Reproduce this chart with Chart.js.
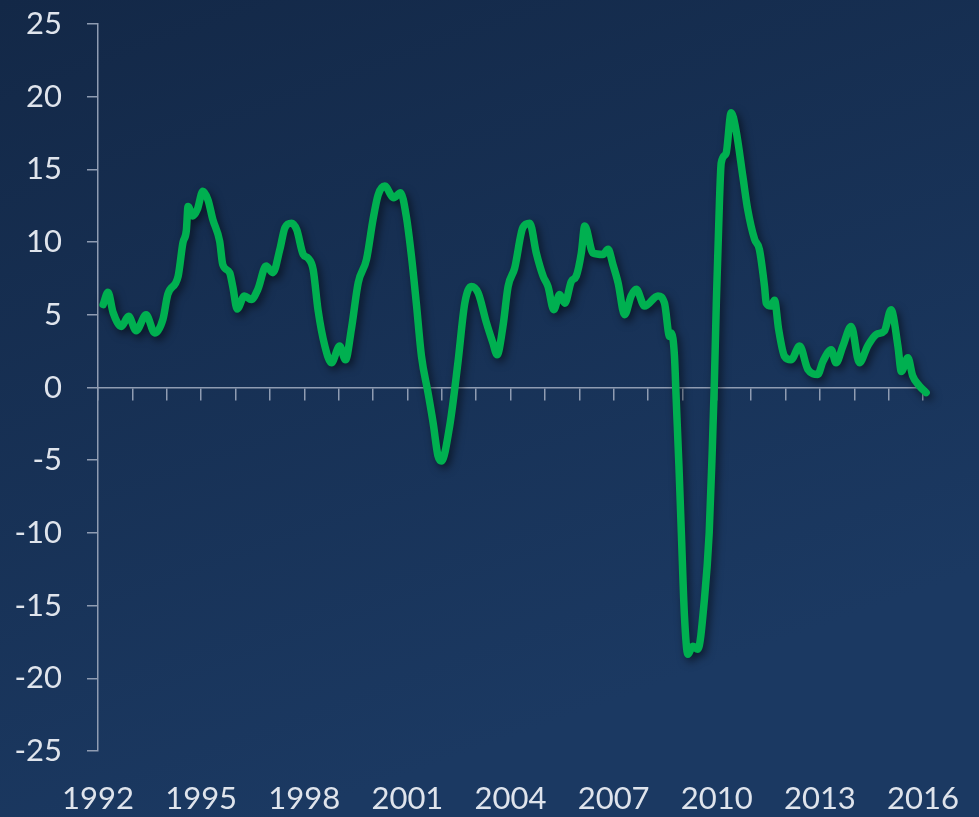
<!DOCTYPE html>
<html>
<head>
<meta charset="utf-8">
<script src="https://cdn.jsdelivr.net/npm/chart.js@4.4.0/dist/chart.umd.min.js"></script>
<style>
  html, body { margin: 0; padding: 0; background: #16305a; }
  #wrap { width: 979px; height: 817px; }
</style>
</head>
<body>
<div id="wrap"><canvas id="chart"></canvas></div>
<script>
// ── data ────────────────────────────────────────────────
const dates = [
  1992.15, 1992.29, 1992.44, 1992.68, 1992.89, 1993.11, 1993.40, 1993.65, 1993.89,
  1994.03, 1994.33, 1994.47, 1994.57, 1994.62, 1994.76, 1994.89, 1995.05, 1995.20,
  1995.34, 1995.54, 1995.63, 1995.83, 1995.92, 1996.05, 1996.26, 1996.46, 1996.65,
  1996.89, 1997.09, 1997.29, 1997.44, 1997.63, 1997.78, 1997.97, 1998.11, 1998.26,
  1998.40, 1998.60, 1998.79, 1999.03, 1999.20, 1999.37, 1999.57, 1999.81, 2000.00,
  2000.15, 2000.34, 2000.60, 2000.80, 2000.97, 2001.12, 2001.26, 2001.41, 2001.60,
  2001.75, 2001.89, 2001.99, 2002.23, 2002.47, 2002.67, 2002.86, 2003.06, 2003.30,
  2003.49, 2003.61, 2003.78, 2003.93, 2004.12, 2004.36, 2004.56, 2004.75, 2004.95,
  2005.09, 2005.26, 2005.43, 2005.58, 2005.77, 2005.91, 2006.06, 2006.16, 2006.40,
  2006.69, 2006.84, 2006.98, 2007.13, 2007.32, 2007.51, 2007.66, 2007.90, 2008.29,
  2008.48, 2008.63, 2008.68, 2008.77, 2008.82, 2008.90, 2008.97, 2009.06, 2009.16,
  2009.30, 2009.45, 2009.64, 2009.78, 2009.87, 2009.93, 2009.99, 2010.08, 2010.13,
  2010.27, 2010.42, 2010.56, 2010.76, 2010.90, 2011.10, 2011.24, 2011.39, 2011.44,
  2011.58, 2011.68, 2011.80, 2011.97, 2012.16, 2012.41, 2012.65, 2012.94, 2013.09,
  2013.33, 2013.47, 2013.67, 2013.91, 2014.15, 2014.39, 2014.64, 2014.88, 2015.07,
  2015.27, 2015.37, 2015.56, 2015.70, 2015.90, 2016.09
];
const values = [
  5.7, 6.55, 5.15, 4.2, 4.9, 3.9, 5.0, 3.75, 4.7,
  6.4, 7.65, 9.95, 10.8, 12.45, 11.8, 12.25, 13.5, 12.9,
  11.55, 10.05, 8.45, 7.9, 6.95, 5.4, 6.3, 6.05, 6.75,
  8.35, 7.9, 9.5, 11.0, 11.3, 10.85, 9.15, 8.9, 8.1,
  5.35, 2.85, 1.7, 2.85, 1.9, 4.0, 7.2, 8.8, 11.55,
  13.25, 13.85, 13.05, 13.4, 11.75, 9.0, 5.8, 2.15, -0.35,
  -2.45, -4.7, -5.05, -2.65, 1.7, 5.8, 6.95, 6.5, 4.45,
  3.05, 2.25, 4.2, 6.95, 8.2, 11.0, 11.3, 9.25, 7.65,
  6.95, 5.35, 6.4, 5.8, 7.3, 7.65, 9.25, 11.1, 9.25,
  9.15, 9.5, 8.45, 7.2, 5.0, 6.3, 6.75, 5.6, 6.3,
  5.8, 3.5, 3.75, 2.15, -0.8, -5.4, -10.0, -15.7, -18.35,
  -17.8, -18.0, -14.6, -10.0, -4.25, 0.3, 6.05, 12.9, 15.45,
  16.1, 18.9, 17.7, 14.5, 12.25, 10.2, 9.5, 6.95, 5.8,
  5.6, 6.0, 4.0, 2.15, 1.9, 2.85, 1.25, 0.9, 1.8,
  2.6, 1.7, 2.85, 4.2, 1.7, 2.85, 3.65, 3.9, 5.35,
  2.85, 1.1, 2.05, 0.8, 0.1, -0.35
];
const yearTicks = [];
for (let y = 1992; y <= 2016; y++) yearTicks.push(y);
const yMin = -25, yMax = 25, yStep = 5;

// ── styles ──────────────────────────────────────────────
const FONT      = 'Lato, "Open Sans", sans-serif';
const LABEL_CLR = '#dfe4ec';
const AXIS_CLR  = '#8f9cb2';
const LINE_CLR  = '#00b050';

const bgPlugin = {
  id: 'bg',
  beforeDraw(chart) {
    const { ctx, width, height } = chart;
    const g = ctx.createLinearGradient(0, 0, width * 0.3, height);
    g.addColorStop(0, '#132847');
    g.addColorStop(1, '#1b3962');
    ctx.save();
    ctx.fillStyle = g;
    ctx.fillRect(0, 0, width, height);
    ctx.restore();
  }
};

// soft drop shadow under the line
const shadowPlugin = {
  id: 'lineShadow',
  beforeDatasetsDraw(chart) {
    const ctx = chart.ctx;
    ctx.save();
    ctx.shadowColor = 'rgba(0,0,0,0.55)';
    ctx.shadowBlur = 8;
    ctx.shadowOffsetX = 3;
    ctx.shadowOffsetY = 4;
  },
  afterDatasetsDraw(chart) {
    chart.ctx.restore();
  }
};

const setYearTicks = axis => { axis.ticks = yearTicks.map(v => ({ value: v })); };
// keep the layout padding in charge, not the label overflow
const noPad = axis => {
  axis.paddingTop = axis.paddingBottom = axis.paddingLeft = axis.paddingRight = 0;
};

new Chart(document.getElementById('chart'), {
  type: 'line',
  data: {
    datasets: [{
      data: dates.map((d, i) => ({ x: d, y: values[i] })),
      borderColor: LINE_CLR,
      borderWidth: 7.5,
      pointRadius: 0,
      cubicInterpolationMode: 'monotone',
      borderJoinStyle: 'round',
      borderCapStyle: 'round',
      clip: false,
      xAxisID: 'x'
    }]
  },
  options: {
    responsive: true,
    maintainAspectRatio: false,
    animation: false,
    layout: { padding: { top: 24, right: 56, bottom: 0, left: 0 } },
    plugins: { legend: { display: false }, tooltip: { enabled: false } },
    scales: {
      x: {
        type: 'linear',
        min: 1992, max: 2016,
        position: { y: 0 },
        afterBuildTicks: setYearTicks,
        afterFit(axis) { noPad(axis); axis.height = 0; },
        grid: { drawOnChartArea: false, drawTicks: true, tickLength: 12, color: AXIS_CLR, lineWidth: 1.5 },
        border: { color: AXIS_CLR, width: 1.5 },
        ticks: { display: false }
      },
      xLabels: {
        type: 'linear',
        min: 1992, max: 2016,
        position: 'bottom',
        afterBuildTicks: setYearTicks,
        afterFit(axis) { noPad(axis); axis.height = 66; },
        grid: { display: false, drawTicks: false },
        border: { display: false },
        ticks: {
          padding: 29,
          maxRotation: 0,
          autoSkip: false,
          color: LABEL_CLR,
          font: { family: FONT, size: 31 },
          callback: v => ((v - 1992) % 3 === 0 ? String(v) : '')
        }
      },
      y: {
        min: yMin, max: yMax,
        afterFit(axis) { noPad(axis); axis.width = 98; },
        grid: { drawOnChartArea: false, drawTicks: true, tickLength: 11, color: AXIS_CLR, lineWidth: 1.5 },
        border: { color: AXIS_CLR, width: 1.5 },
        ticks: {
          stepSize: yStep,
          padding: 25,
          color: LABEL_CLR,
          font: { family: FONT, size: 31 }
        }
      }
    }
  },
  plugins: [bgPlugin, shadowPlugin]
});
</script>
</body>
</html>
